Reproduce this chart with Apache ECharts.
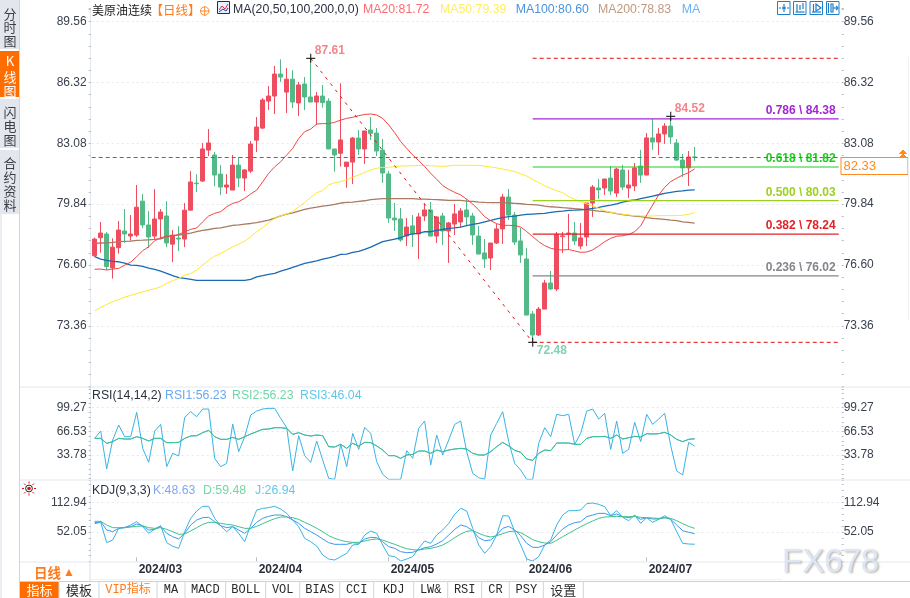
<!DOCTYPE html>
<html><head><meta charset="utf-8">
<style>html,body{margin:0;padding:0;background:#fff}#c{width:910px;height:598px}</style>
<script src="https://cdn.jsdelivr.net/npm/echarts@6/dist/echarts.min.js"></script>
</head><body><div id="c"></div>
<script>
const febDays=[21,22,23,26,27,28,29];
const marDays=[1,4,5,6,7,8,11,12,13,14,15,18,19,20,21,22,25,26,27,28];
const aprDays=[1,2,3,4,5,8,9,10,11,12,15,16,17,18,19,22,23,24,25,26,29,30];
const mayDays=[1,2,3,6,7,8,9,10,13,14,15,16,17,20,21,22,23,24,27,28,29,30,31];
const junDays=[3,4,5,6,7,10,11,12,13,14,17,18,19,20,21,24,25,26,27,28];
const julDays=[1,2,3,4,5,8,9,10,11];
const tickLabels=['2024/03','2024/04','2024/05','2024/06','2024/07'];
const priceTicks=['','73.36','76.60','79.84','83.08','86.32','89.56',''];
const rsiTicks=['','33.78','66.53','99.27',''];
const kdjTicks=['','52.05','112.94',''];

const opens=[77.09,78.05,78.25,76.44,77.52,78.41,78.14,78.19,80.00,78.73,78.14,79.05,79.21,77.71,78.03,77.98,79.52,80.96,81.07,82.72,82.46,81.44,80.75,80.59,81.92,81.23,81.60,83.25,83.89,85.33,85.60,86.77,85.81,86.50,85.23,86.24,85.55,85.28,85.60,85.33,82.78,82.55,81.84,82.08,83.36,82.78,83.79,83.63,82.72,81.45,79.10,79.05,78.14,78.68,78.25,79.21,79.53,78.14,79.21,78.41,78.78,78.89,79.53,79.21,78.14,77.24,76.97,77.77,78.52,80.22,79.26,77.88,76.92,73.99,72.87,74.25,75.64,75.32,78.11,78.25,78.30,77.61,78.09,79.90,80.70,80.70,81.23,80.43,81.66,80.70,80.81,81.87,81.39,83.37,83.15,83.58,84.00,83.10,82.19,81.77,82.35];
const closes=[77.98,78.30,76.51,77.55,78.46,78.25,78.25,79.68,78.73,78.09,79.05,79.42,77.77,78.19,77.98,79.52,81.02,80.93,82.78,83.10,81.39,80.75,80.86,81.92,81.23,81.66,83.04,83.95,85.39,85.60,86.77,86.61,86.50,85.28,86.19,85.55,85.28,85.60,85.25,82.78,82.46,83.26,82.08,83.36,82.78,83.74,83.61,82.67,81.50,79.10,79.00,77.93,78.62,78.25,79.16,79.53,78.14,79.16,78.41,78.84,79.32,79.48,79.16,78.20,77.18,76.92,77.77,78.52,80.22,79.26,77.82,77.13,73.93,72.87,74.25,75.64,75.32,78.23,78.15,78.30,77.88,78.04,79.90,80.75,80.60,81.18,80.54,81.71,80.75,80.86,81.77,81.39,83.37,83.15,83.58,84.00,83.42,82.19,81.77,82.35,82.33];
const lows=[77.04,77.25,76.33,75.87,77.20,77.78,77.89,78.09,78.57,77.50,77.93,77.98,77.55,76.75,77.34,77.55,79.52,80.48,81.02,82.40,80.80,80.32,80.38,80.59,80.75,80.54,81.50,82.62,83.84,84.85,84.64,86.35,84.69,84.96,84.53,84.85,85.28,84.05,84.98,82.78,81.57,81.84,80.72,80.91,82.46,81.98,83.26,82.40,80.97,78.84,78.41,77.84,77.61,77.56,76.92,78.94,78.14,77.77,77.67,76.71,78.20,78.62,78.68,77.67,77.18,76.44,76.33,77.72,77.72,79.00,77.67,76.71,73.93,72.48,72.82,74.25,75.27,75.21,77.24,77.40,77.67,77.45,77.61,79.16,80.12,80.33,80.33,80.22,80.60,80.17,80.54,80.97,81.39,82.73,82.46,83.05,83.05,82.14,81.29,80.81,82.14];
const highs=[78.05,78.89,78.35,78.02,78.94,79.58,79.26,80.86,80.38,79.47,80.64,79.58,80.00,78.46,78.67,79.90,81.60,81.44,83.10,83.84,82.62,81.92,81.44,82.46,82.35,81.71,83.20,84.48,85.49,86.13,87.20,87.55,87.09,86.98,86.35,86.61,87.61,85.81,86.19,85.48,82.78,86.28,82.08,83.42,83.79,83.74,84.48,83.90,83.31,81.61,79.90,79.63,79.10,79.26,79.37,79.88,79.95,79.21,79.37,78.89,79.85,79.63,80.12,79.37,78.68,77.98,77.77,78.78,80.38,80.65,79.42,78.57,77.50,74.15,74.36,75.80,76.28,78.36,78.36,79.32,78.89,78.84,79.90,80.86,81.18,81.18,81.87,81.77,81.93,81.66,82.03,82.73,83.63,84.38,83.90,84.16,84.52,83.31,82.51,82.67,82.89];

const ma20=[76.37,76.38,76.33,76.38,76.42,76.59,76.75,77.04,77.36,77.57,77.89,78.05,78.14,78.14,78.23,78.37,78.50,78.57,78.90,79.21,79.35,79.44,79.70,79.88,79.97,80.15,80.38,80.59,81.03,81.48,81.83,82.10,82.46,82.81,83.34,83.70,83.84,84.11,84.13,84.13,84.20,84.32,84.41,84.47,84.55,84.62,84.64,84.59,84.41,84.06,83.65,83.17,82.81,82.46,82.16,81.84,81.48,81.16,80.83,80.63,80.47,80.33,80.10,79.85,79.53,79.17,78.96,78.80,78.71,78.71,78.70,78.62,78.38,78.11,77.84,77.63,77.49,77.42,77.40,77.42,77.35,77.27,77.29,77.40,77.61,77.84,78.02,78.13,78.16,78.22,78.38,78.68,79.26,79.80,80.33,80.74,81.04,81.22,81.39,81.52,81.72];
const ma50=[74.16,74.34,74.50,74.64,74.76,74.89,74.98,75.07,75.17,75.26,75.33,75.44,75.62,75.76,75.88,76.06,76.15,76.33,76.59,76.86,77.07,77.21,77.39,77.57,77.71,77.87,78.10,78.37,78.60,78.85,79.08,79.22,79.31,79.45,79.70,79.92,80.20,80.45,80.56,80.86,80.98,81.04,81.14,81.27,81.39,81.53,81.66,81.75,81.80,81.80,81.85,81.87,81.88,81.89,81.90,81.90,81.89,81.87,81.85,81.88,81.91,81.91,81.91,81.91,81.91,81.86,81.82,81.77,81.71,81.64,81.57,81.45,81.34,81.16,80.99,80.81,80.68,80.56,80.45,80.24,80.10,79.97,79.85,79.74,79.62,79.49,79.40,79.35,79.30,79.26,79.23,79.21,79.21,79.21,79.23,79.23,79.23,79.23,79.25,79.30,79.39];
const ma100=[77.04,76.91,76.84,76.79,76.77,76.70,76.59,76.58,76.52,76.43,76.36,76.27,76.15,76.03,75.92,75.88,75.83,75.78,75.78,75.78,75.78,75.78,75.78,75.78,75.78,75.78,75.83,75.97,76.03,76.10,76.15,76.27,76.36,76.47,76.58,76.68,76.75,76.82,76.91,76.98,77.06,77.16,77.18,77.27,77.32,77.43,77.55,77.70,77.84,77.91,77.98,78.05,78.19,78.26,78.28,78.37,78.37,78.44,78.49,78.55,78.58,78.62,78.69,78.76,78.81,78.90,78.97,79.06,79.12,79.17,79.20,79.26,79.29,79.31,79.33,79.35,79.40,79.44,79.47,79.51,79.52,79.54,79.56,79.61,79.67,79.74,79.79,79.86,79.95,80.02,80.06,80.13,80.20,80.27,80.34,80.41,80.47,80.52,80.55,80.59,80.60];
const ma200=[77.75,77.77,77.78,77.80,77.84,77.86,77.87,77.91,77.92,77.94,77.96,77.99,78.10,78.16,78.19,78.25,78.30,78.37,78.44,78.49,78.55,78.58,78.64,78.71,78.74,78.78,78.81,78.85,78.92,78.99,79.10,79.22,79.31,79.38,79.47,79.56,79.63,79.68,79.74,79.77,79.83,79.90,79.93,79.95,79.99,80.02,80.08,80.11,80.13,80.13,80.13,80.13,80.13,80.13,80.11,80.11,80.09,80.08,80.06,80.04,80.04,80.04,80.00,79.99,79.95,79.93,79.92,79.92,79.92,79.90,79.88,79.86,79.83,79.81,79.79,79.74,79.70,79.68,79.65,79.63,79.60,79.58,79.54,79.51,79.47,79.44,79.40,79.33,79.28,79.24,79.20,79.17,79.12,79.08,79.06,79.03,78.99,78.96,78.90,78.87,78.83];

const rsi3=[56.84,66.99,14.41,54.53,75.29,59.15,59.15,92.81,43.00,23.63,66.99,76.21,17.64,36.09,32.40,85.90,93.74,86.82,97.43,97.43,29.17,17.64,22.25,76.67,38.39,59.15,89.12,94.66,97.43,98.35,98.35,84.51,71.60,11.64,60.53,32.86,23.63,53.15,26.86,1.50,0.10,48.54,17.64,63.76,41.62,72.06,63.76,24.56,7.03,0.10,0.10,0.10,39.78,29.17,70.68,80.82,19.94,61.45,33.78,54.53,76.21,80.82,38.39,8.42,2.42,0.30,61.45,77.59,93.74,52.23,22.25,13.03,0.10,0.10,49.92,71.60,59.15,90.05,88.20,90.05,48.54,63.76,94.66,97.43,83.59,91.43,41.62,80.82,36.09,41.62,78.98,52.23,90.05,76.21,83.59,91.43,46.69,11.64,6.11,51.31,46.04];
const rsi1=[56.84,56.84,49.92,52.23,56.84,55.92,55.92,59.15,56.84,53.15,56.84,56.84,50.84,50.84,51.31,56.84,60.07,60.53,64.68,67.91,59.15,55.46,55.46,58.22,55.46,59.15,62.84,66.06,69.29,69.75,71.60,71.60,70.68,62.37,64.68,61.45,60.07,61.45,60.53,45.31,44.85,48.54,43.00,49.92,46.23,51.31,50.84,46.23,40.70,32.86,32.86,29.17,33.78,34.70,39.31,39.31,36.09,40.70,38.39,40.70,42.08,43.00,42.08,36.09,33.78,33.78,38.39,45.31,51.31,46.23,40.24,37.47,28.25,26.40,36.09,40.70,39.78,50.38,50.38,50.38,48.54,48.54,56.84,59.15,59.15,59.61,56.84,61.45,55.92,57.76,59.61,58.69,63.30,62.84,63.30,65.14,61.45,55.46,52.23,55.46,56.23];
const rsi2=rsi1.slice();

const kdjK=[71.20,73.26,56.15,52.73,59.57,61.63,63.00,68.47,65.05,56.15,57.52,63.00,49.31,42.47,37.68,49.31,66.41,76.68,81.47,82.15,73.26,65.05,60.94,63.00,56.15,49.31,59.57,71.89,80.10,84.20,86.94,86.94,83.52,76.68,69.84,59.57,52.73,45.89,37.68,30.15,26.73,26.73,26.73,30.15,28.78,37.68,41.10,40.42,32.20,21.94,18.52,11.68,9.63,10.31,15.10,19.89,21.94,27.42,34.26,45.89,57.52,66.41,63.00,54.78,40.42,34.26,35.63,45.89,59.57,63.68,56.15,44.52,28.78,20.57,20.57,25.36,32.20,45.89,58.20,66.41,71.20,73.26,83.52,86.94,90.36,90.36,85.57,88.99,83.52,81.47,84.89,78.05,81.47,78.73,78.73,82.15,78.05,66.41,54.78,51.36,48.63];
const kdjD=[73.94,73.94,66.41,60.94,60.94,60.94,62.31,63.68,64.36,60.94,59.57,60.94,57.52,52.73,47.26,47.94,54.10,60.94,67.78,71.89,71.89,69.84,67.78,66.41,63.00,59.57,59.57,63.68,69.15,74.63,79.41,82.84,82.84,81.47,78.05,71.89,66.41,59.57,52.73,44.52,39.05,34.94,32.20,30.83,30.83,33.57,36.31,37.68,35.63,30.83,26.73,21.94,17.84,15.78,15.10,17.15,18.52,21.26,25.36,32.20,40.42,47.94,53.41,54.78,49.31,44.52,41.78,44.52,48.63,52.73,54.10,50.68,43.78,36.31,32.20,29.47,28.78,34.94,42.47,49.31,56.15,63.00,69.15,74.63,80.10,82.84,83.52,84.20,83.52,83.52,84.20,82.15,81.47,80.78,80.10,80.78,80.10,75.31,69.15,63.68,59.48];
const kdjJ=[69.15,71.89,30.15,35.63,59.57,60.94,66.41,73.26,63.00,49.31,58.20,65.05,30.15,22.63,18.52,52.73,80.10,95.15,104.73,104.73,80.10,64.36,52.73,63.00,49.31,32.20,66.41,97.20,100.63,102.00,104.73,99.26,90.36,76.68,63.00,39.05,32.20,23.31,4.84,-3.37,-5.42,1.42,8.26,25.36,26.73,45.89,54.10,49.31,25.36,3.47,1.42,-7.48,-3.37,1.42,18.52,33.57,28.78,45.89,56.15,69.84,88.31,100.63,95.15,59.57,25.36,8.26,21.94,45.89,85.57,84.89,52.73,25.36,-3.37,-7.48,1.42,25.36,35.63,66.41,86.94,95.83,95.83,97.20,110.20,111.57,108.84,104.05,85.57,95.83,82.15,75.31,86.94,69.84,81.47,71.89,78.05,85.57,78.05,52.73,28.78,27.42,26.94];

const fibRatios=['0.786','0.618','0.500','0.382','0.236'];
const fibValues=[84.38,81.82,80.03,78.24,76.02];
const fibColors=['#a226d6','#1fce1f','#9bd11e','#e02228','#85858a'];
const swingHigh=87.61, swingLow=72.48, lastPrice=82.33, rightPeak=84.52;
const iHigh=36, iLow=73, iPeak=96, iEnd=124;

const Y=[].concat(febDays.map(d=>'2024/02/'+d),marDays.map(d=>'2024/03/'+d),aprDays.map(d=>'2024/04/'+d),mayDays.map(d=>'2024/05/'+d),junDays.map(d=>'2024/06/'+d),julDays.map(d=>'2024/07/'+d));
const categories=Y.concat(Array.from({length:125-Y.length},(_,i)=>'+'+(i+1)));
const tickIdx=[febDays.length,febDays.length+marDays.length,febDays.length+marDays.length+aprDays.length,febDays.length+marDays.length+aprDays.length+mayDays.length,Y.length-julDays.length];

const candles=opens.map((o,i)=>[o,closes[i],lows[i],highs[i]]);
const SANS="'Liberation Sans',Arial,sans-serif";
const L=91.7,W=750;
const isTick=i=>tickIdx.includes(i);

function xAx(g,show){return {type:'category',gridIndex:g,data:categories,boundaryGap:true,
  axisLine:{show:false},splitLine:{show:false},
  axisTick:{show:show,interval:isTick,alignWithLabel:true,length:4,lineStyle:{color:'#b8bec8'}},
  axisLabel:{show:show,interval:isTick,align:'left',margin:2,padding:[0,0,0,2],
    fontFamily:SANS,fontSize:12,fontWeight:'bold',color:'#2b2f38',
    formatter:(v,i)=>{const k=tickIdx.indexOf(i);return k>=0?tickLabels[k]:''}}};}
function yAx(g,pos,min,max,interval,labels){return {type:'value',gridIndex:g,position:pos,min,max,interval,scale:true,offset:pos==='left'?1:0,
  axisLine:{show:pos==='left',lineStyle:{color:'#e2e7ee'}},
  axisTick:{show:true,length:2,lineStyle:{color:'#b4bac4'}},
  minorTick:{show:true,splitNumber:5,length:2,lineStyle:{color:'#b4bac4'}},
  minorSplitLine:{show:false},
  splitLine:{show:pos==='left',showMinLine:false,showMaxLine:false,lineStyle:{color:'#e6e8ec',type:[2,3],width:1}},
  axisLabel:{margin:pos==='left'?4:2,padding:[0,0,2,0],fontFamily:SANS,fontSize:12,color:'#3a414e',formatter:(v,i)=>labels[i]||''}};}
function ln(name,data,color,w,x,y,z){return {type:'line',name,data,xAxisIndex:x,yAxisIndex:y,symbol:'none',smooth:false,clip:false,z:z||3,
  lineStyle:{color,width:w},itemStyle:{color},silent:true,animation:false};}
function seg(a,b,color,type){return {type:'line',data:[[a[0],a[1]],[b[0],b[1]]],xAxisIndex:0,yAxisIndex:0,symbol:'none',z:4,silent:true,
  lineStyle:{color,width:1,type}};}

const fibSeries=fibValues.map((v,k)=>({type:'line',data:[[iLow,v],[iEnd,v]],xAxisIndex:0,yAxisIndex:0,symbol:'none',z:4,silent:true,
  lineStyle:{color:fibColors[k],width:1.2},itemStyle:{color:fibColors[k]},
  endLabel:{show:true,distance:0,align:'right',verticalAlign:'bottom',offset:[-3,-2],fontFamily:SANS,fontSize:12,fontWeight:'bold',color:fibColors[k],
    formatter:fibRatios[k]+' \\ '+v.toFixed(2)}}));

const plus='path://M0 5H10M5 0V10';
const peaks={type:'scatter',xAxisIndex:0,yAxisIndex:0,z:6,symbol:plus,symbolSize:9,silent:true,clip:false,
  itemStyle:{color:'transparent',borderColor:'#000',borderWidth:1.2},
  data:[
   {value:[iHigh,swingHigh],label:{show:true,position:'right',offset:[-6,-8],color:'#f0656c',fontFamily:SANS,fontSize:12,fontWeight:'bold',formatter:swingHigh.toFixed(2)}},
   {value:[iPeak,rightPeak],label:{show:true,position:'right',offset:[-6,-8],color:'#f0656c',fontFamily:SANS,fontSize:12,fontWeight:'bold',formatter:rightPeak.toFixed(2)}},
   {value:[iLow,swingLow],label:{show:true,position:'right',offset:[-6,8],color:'#62c6a0',fontFamily:SANS,fontSize:12,fontWeight:'bold',formatter:swingLow.toFixed(2)}}]};

function T(x,y,text,fill,font,extra){return Object.assign({type:'text',z:20,style:Object.assign({x,y,text,fill,font:font||('12.3px '+SANS),textVerticalAlign:'middle'},extra||{})},{silent:true});}
function R(x,y,w,h,fill,stroke){return {type:'rect',z:10,silent:true,shape:{x,y,width:w,height:h},style:{fill:fill||'none',stroke:stroke||'none',lineWidth:1}};}
function H(x1,x2,y,c){return {type:'line',z:11,silent:true,shape:{x1,y1:y,x2,y2:y},style:{stroke:c,lineWidth:1}};}
function V(x,y1,y2,c){return {type:'line',z:11,silent:true,shape:{x1:x,y1,x2:x,y2},style:{stroke:c,lineWidth:1}};}
function P(d,stroke,fill,lw){
  const subs=[];let cur=null,cx=0,cy=0;
  (d.match(/[MLHVZ][^MLHVZ]*/g)||[]).forEach(tok=>{
    const c=tok[0],n=tok.slice(1).trim().split(/[ ,]+/).filter(Boolean).map(Number);
    if(c==='M'){cx=n[0];cy=n[1];cur={pts:[[cx,cy]],closed:false};subs.push(cur);}
    else if(c==='L'){cx=n[0];cy=n[1];cur.pts.push([cx,cy]);}
    else if(c==='H'){cx=n[0];cur.pts.push([cx,cy]);}
    else if(c==='V'){cy=n[0];cur.pts.push([cx,cy]);}
    else if(c==='Z'){cur.closed=true;}
  });
  return {type:'group',children:subs.map(s=>({type:s.closed?'polygon':'polyline',z:21,silent:true,shape:{points:s.pts},
    style:{stroke:stroke||'none',fill:s.closed?(fill||'none'):'none',lineWidth:lw||1}}))};
}

const CJK="'Noto Sans CJK SC',sans-serif";
const BLUE='#1f7fc8';
const g=[];
// side tabs
g.push(R(0,0,19.5,49,'#e4e6ee'),R(0,51,19,46,'#ff6d00'),R(0,99,19.5,49,'#e4e6ee'),R(0,150,19.5,64,'#e4e6ee'));
g.push(V(1,214,598,'#d4dae3'),V(19.5,0,598,'#d0d6e0'));
const side=(x,ys,s,c,f)=>s.split('').forEach((ch,i)=>g.push(T(x,ys[i],ch,c,f||('13px '+CJK),{textAlign:'center'})));
side(10,[14,27.5,41],'分时图','#3c3f48');
side(10,[61,77,91],'K线图','#ffffff');
side(10,[112,126,140],'闪电图','#3c3f48');
side(10,[163,177.5,191.5,205],'合约资料','#3c3f48');
// header
g.push(T(92,10,'美原油连续','#222','12px '+CJK));
g.push(T(150.5,10,'【日线】','#ff7a1a','12.5px '+CJK));
g.push({type:'circle',z:21,silent:true,shape:{cx:204.7,cy:11,r:4.2},style:{fill:'none',stroke:'#ff8a2a',lineWidth:1}});
g.push(P('M200 11H209.5M204.7 6.5V15.5','#ff8a2a'));
g.push(R(217.5,1.5,12,12,'#e8f0ff','#162c80'));
g.push(P('M219 10L222 6L225 9L228 4','#d8343c'),P('M219 12L223 9L226 11L228 8','#2040a0'));
g.push(T(233,10,'MA(20,50,100,200,0,0)','#2a3140'));
g.push(T(363,10,'MA20:81.72','#ff6a6e'),T(440,10,'MA50:79.39','#ffee63'),T(515.7,10,'MA100:80.60','#4a93dc'),T(598,10,'MA200:78.83','#c19a82'),T(681.7,10,'MA','#6ab0f5'));
// toolbar icons
[777.5,793.5,810,826.5].forEach(x=>g.push(R(x,1.5,12.5,13,'#ffffff',BLUE)));
g.push(P('M784 4V6M784 10V12M779 8H781M787 8H789M783 7H785V9H783Z',BLUE,BLUE,1.2));
g.push(P('M795.5 12H804.5M797 4V12M800 5V10M803 3V9',BLUE,null,1.2));
g.push(P('M812 12H821M813.5 4V12M816 4L821 8L816 11Z',BLUE,null,1.2));
g.push(P('M828.5 3V13M831 4H833V12H831ZM833 8H838M836 6L838 8L836 10',BLUE,null,1.2));
// pane separators
g.push(H(20,910,387,'#e3e8ee'),H(20,910,480,'#e3e8ee'),H(20,910,562,'#e3e8ee'),H(90,782,579.5,'#edf1f4'),H(20,910,581.5,'#c9d0da'),V(90,562,581,'#d8dee6'));
// RSI and KDJ headers
g.push(T(92,395.5,'RSI(14,14,2)','#2a3140'),T(165,395.5,'RSI1:56.23','#6aa9f0'),T(232,395.5,'RSI2:56.23','#74d6a8'),T(300,395.5,'RSI3:46.04','#62c8ea'));
g.push(T(92,490.5,'KDJ(9,3,3)','#2a3140'),T(153,490.5,'K:48.63','#80a8f5'),T(203,490.5,'D:59.48','#74d6a8'),T(255,490.5,'J:26.94','#62c8ea'));
// sun
g.push({type:'circle',z:21,silent:true,shape:{cx:29,cy:488.5,r:3.4},style:{fill:'#fff',stroke:'#222',lineWidth:1}});
g.push({type:'circle',z:22,silent:true,shape:{cx:29,cy:488.5,r:1.8},style:{fill:'#e01010'}});
g.push(P('M29 481.5V483.5M29 493.5V495.5M22 488.5H24M34 488.5H36M24 483.5L25.5 485M34 483.5L32.5 485M24 493.5L25.5 492M34 493.5L32.5 492','#e01010'));
// price tag
g.push(R(841,157.5,67,17,'#ffffff','#ff8a1f'));
g.push(T(843.5,166.5,'82.33','#ff8a1f','13px '+SANS));
g.push(P('M899.5 153.5L903 150L906.5 153.5ZM899.5 157.5L903 154L906.5 157.5Z','#ff8a1f','#ff8a1f'));
g.push(V(908.5,57,320,'#eef1f5'));
// bottom toolbar
g.push(R(20,582,39,16,'#ff6d00'));
const cells=[59,99,157,185,225.7,265.7,299.7,339.7,373.7,413.7,447.7,481.7,509.3,543.3,583.3];
cells.forEach(x=>g.push(V(x,582,598,'#cfd5de')));
const names=['指标','模板','VIP指标','MA','MACD','BOLL','VOL','BIAS','CCI','KDJ','LW&','RSI','CR','PSY','设置'];
const edges=[20].concat(cells);
const MONO="'Liberation Mono','Noto Sans CJK SC',monospace";
names.forEach((n,i)=>{let c='#2a2a2a',f='12px '+MONO;
  if(i===0){c='#fff';f='13px '+CJK} if(i===1||i===14){f='13px '+CJK} if(i===2){c='#ff7a1a'}
  g.push(T((edges[i]+edges[i+1])/2,590,n,c,f,{textAlign:'center'}));});
g.push(T(34,572.5,'日线','#ff7a1a','bold 13.5px '+CJK),T(63,573,'▲','#ff7a1a','12px '+SANS));
// watermark
g.push(T(782,562.5,'FX678','#dde6f4','33px '+SANS,{textShadowColor:'rgba(120,105,90,.5)',textShadowBlur:2,textShadowOffsetX:1.5,textShadowOffsetY:1.5}));

const opt={animation:false,backgroundColor:'#fff',
 grid:[{left:L,width:W,top:7.8,height:378.8},{left:L,width:W,top:387,height:91.67},{left:L,width:W,top:480,height:81.67}],
 xAxis:[xAx(0,false),xAx(1,false),xAx(2,true)],
 yAxis:[yAx(0,'left',70.12,90.3,3.24,priceTicks),yAx(0,'right',70.12,90.3,3.24,priceTicks),
        yAx(1,'left',1.035,127.9,32.745,rsiTicks),yAx(1,'right',1.035,127.9,32.745,rsiTicks),
        yAx(2,'left',-8.84,158.8,60.89,kdjTicks),yAx(2,'right',-8.84,158.8,60.89,kdjTicks)],
 graphic:{elements:g},
 series:[
  {type:'candlestick',name:'K',data:candles,xAxisIndex:0,yAxisIndex:0,barWidth:5,z:2,silent:true,
   itemStyle:{color:'#ee4d5f',color0:'#53b987',borderColor:'#ee4d5f',borderColor0:'#53b987',borderWidth:1},
   markLine:{silent:true,symbol:'none',animation:false,label:{show:false},lineStyle:{color:'#1f78e0',type:[4,3],width:1},data:[{yAxis:lastPrice}]}},
  ln('MA200',ma200,'#a87a62',1.3,0,0),
  ln('MA100',ma100,'#1a6ab5',1.3,0,0),
  ln('MA50',ma50,'#ffe92e',1,0,0),
  ln('MA20',ma20,'#f5453e',1,0,0),
  seg([iHigh,swingHigh],[iLow,swingLow],'#e01010',[3,5]),
  seg([iLow,swingHigh],[iEnd,swingHigh],'#e01010',[4,3]),
  seg([iLow,swingLow],[iEnd,swingLow],'#e01010',[4,3]),
  ...fibSeries,
  peaks,
  ln('RSI3',rsi3,'#36b4e8',1,1,2),
  ln('RSI1',rsi1,'#4aa8f0',1,1,2,4),
  ln('RSI2',rsi2,'#3cc48a',1,1,2,4),
  ln('K',kdjK,'#3d96f5',1,2,4,4),
  ln('D',kdjD,'#3cc48a',1,2,4,5),
  ln('J',kdjJ,'#36b4e8',1,2,4)
 ]};
echarts.init(document.getElementById('c'),null,{renderer:'canvas'}).setOption(opt);
</script></body></html>
